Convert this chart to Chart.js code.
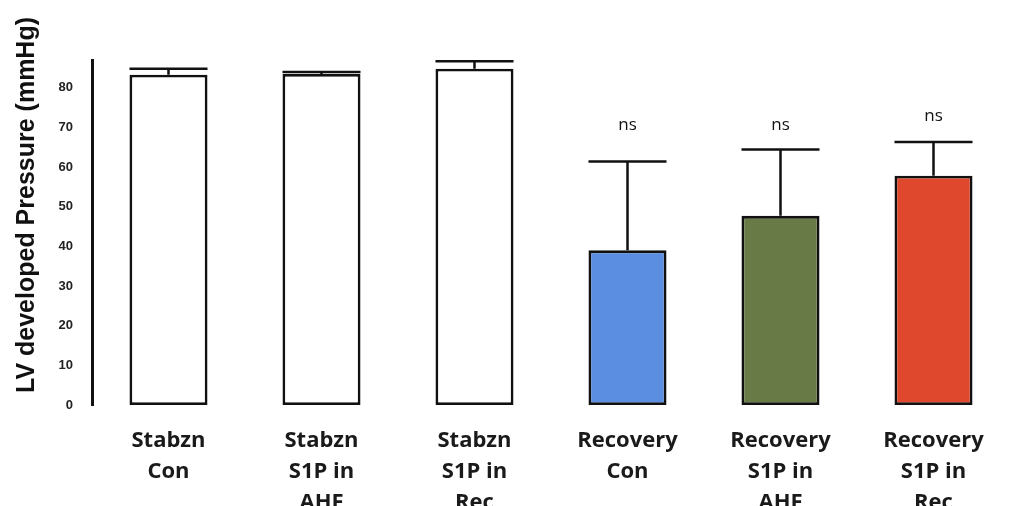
<!DOCTYPE html>
<html>
<head>
<meta charset="utf-8">
<script src="https://cdn.jsdelivr.net/npm/chart.js@4"></script>
<style>
  html, body { margin: 0; padding: 0; background: #fff; }
  #wrap { width: 1010px; height: 506px; }
</style>
</head>
<body>
<div id="wrap"><canvas id="lvChart"></canvas></div>
<script>
// groups on the x axis (multi-line labels)
const categories = [
    ['Stabzn', 'Con'],
    ['Stabzn', 'S1P in', 'AHF'],
    ['Stabzn', 'S1P in', 'Rec'],
    ['Recovery', 'Con'],
    ['Recovery', 'S1P in', 'AHF'],
    ['Recovery', 'S1P in', 'Rec']
];
// mean LV developed pressure (mmHg)
const means = [83.3, 83.5, 84.8, 39.0, 47.7, 57.8];
// top of the error bar (mean + SEM)
const errorUpper = [84.8, 84.0, 86.7, 61.4, 64.4, 66.3];
// significance labels and the level they sit at
const sigLabels = ['', '', '', 'ns', 'ns', 'ns'];
const sigLevel = [null, null, null, 70.5, 70.5, 72.8];
const barColors = ['#ffffff', '#ffffff', '#ffffff', '#5b8de0', '#687a46', '#e0482d'];
const yTicks = [0, 10, 20, 30, 40, 50, 60, 70, 80];
const yTitle = 'LV developed Pressure (mmHg)';

// draws error bars + "ns" over the bars
const errorBarPlugin = {
    id: 'errorBars',
    afterDatasetsDraw(chart) {
        const ctx = chart.ctx;
        const yScale = chart.scales.y;
        const meta = chart.getDatasetMeta(0);
        ctx.save();
        ctx.strokeStyle = '#111';
        ctx.lineWidth = 2.5;
        meta.data.forEach((bar, i) => {
            const top = yScale.getPixelForValue(errorUpper[i]);
            const half = bar.width / 2;
            ctx.beginPath();
            ctx.moveTo(bar.x, bar.y);
            ctx.lineTo(bar.x, top);
            ctx.moveTo(bar.x - half, top);
            ctx.lineTo(bar.x + half, top);
            ctx.stroke();

            if (sigLabels[i]) {
                ctx.fillStyle = '#111';
                ctx.font = '17px "Open Sans", sans-serif';
                ctx.textAlign = 'center';
                ctx.textBaseline = 'middle';
                ctx.fillText(sigLabels[i], bar.x, yScale.getPixelForValue(sigLevel[i]));
            }
        });
        ctx.restore();
    }
};

// y title sits higher than the plot centre in the original, so draw it by hand
const yTitlePlugin = {
    id: 'yTitle',
    afterDraw(chart) {
        const ctx = chart.ctx;
        ctx.save();
        ctx.translate(27, 205);
        ctx.rotate(-Math.PI / 2);
        ctx.fillStyle = '#111';
        ctx.font = 'bold 25px "Liberation Sans", Arial, sans-serif';
        ctx.textAlign = 'center';
        ctx.textBaseline = 'middle';
        ctx.fillText(yTitle, 0, 0);
        ctx.restore();
    }
};

const ctx = document.getElementById('lvChart').getContext('2d');
new Chart(ctx, {
    type: 'bar',
    data: {
        labels: categories,
        datasets: [{
            data: means,
            backgroundColor: barColors,
            borderColor: '#111',
            borderWidth: 2.8,
            borderSkipped: false,
            categoryPercentage: 1,
            barPercentage: 0.51
        }]
    },
    options: {
        responsive: true,
        maintainAspectRatio: false,
        animation: false,
        layout: { padding: { top: 60, right: 0, bottom: 0, left: 0 } },
        plugins: {
            legend: { display: false },
            tooltip: { enabled: false }
        },
        scales: {
            x: {
                grid: { display: false },
                border: { display: false },
                ticks: {
                    color: '#1a1a1a',
                    padding: 12,
                    maxRotation: 0,
                    autoSkip: false,
                    font: { family: '"Open Sans", sans-serif', size: 22, weight: 'bold', lineHeight: 1.41 }
                },
                afterFit(scale) { scale.height = 101; }
            },
            y: {
                min: 0,
                max: 87,
                grid: { display: false },
                border: { display: true, color: '#111', width: 3 },
                afterBuildTicks(scale) {
                    scale.ticks = yTicks.map(v => ({ value: v }));
                },
                ticks: {
                    color: '#222',
                    padding: 11,
                    font: { family: '"Liberation Sans", Arial, sans-serif', size: 13, weight: 'bold' }
                },
                title: { display: false },
                afterFit(scale) { scale.width = 92; }
            }
        }
    },
    plugins: [errorBarPlugin, yTitlePlugin]
});
</script>
</body>
</html>
